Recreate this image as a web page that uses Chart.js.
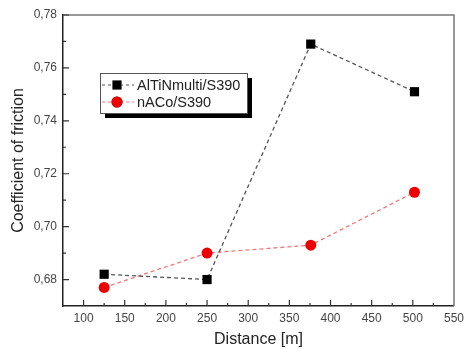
<!DOCTYPE html>
<html>
<head>
<meta charset="utf-8">
<script src="https://cdn.jsdelivr.net/npm/chart.js@4.4.0/dist/chart.umd.min.js"></script>
<style>
  html, body { margin: 0; padding: 0; background: #fff; }
  #wrap { width: 469px; height: 349px; }
</style>
</head>
<body>
<div id="wrap"><canvas class="js-chart" width="469" height="349"></canvas></div>
<script>
const distances = [125, 250, 376, 502];
const altinMulti = [0.682, 0.680, 0.769, 0.751];
const naco = [0.677, 0.690, 0.693, 0.713];
const xTicks = [100, 150, 200, 250, 300, 350, 400, 450, 500, 550];
const yTicks = [0.68, 0.70, 0.72, 0.74, 0.76, 0.78];
const seriesNames = ['AlTiNmulti/S390', 'nACo/S390'];

const FONT = "'Liberation Sans', Arial, sans-serif";
const ctx = document.querySelector('.js-chart').getContext('2d');

// inside ticks, box frame and the legend with its shadow
const frame = {
    id: 'frame',
    afterDraw(chart) {
        const { ctx, chartArea: a, scales: { x, y } } = chart;
        ctx.save();
        ctx.strokeStyle = '#777';
        ctx.lineWidth = 1.5;
        ctx.beginPath();
        ctx.moveTo(a.left, a.top);
        ctx.lineTo(a.right, a.top);
        ctx.lineTo(a.right, a.bottom);
        ctx.stroke();

        ctx.strokeStyle = '#333';
        ctx.lineWidth = 1.2;
        ctx.beginPath();
        for (let v = 100; v <= 525; v += 25) {
            const px = x.getPixelForValue(v);
            const len = v % 50 === 0 ? 6 : 3;
            ctx.moveTo(px, a.bottom);
            ctx.lineTo(px, a.bottom - len);
        }
        for (let i = 68; i <= 78; i++) {
            const py = y.getPixelForValue(i / 100);
            const len = i % 2 === 0 ? 6 : 3;
            ctx.moveTo(a.left, py);
            ctx.lineTo(a.left + len, py);
        }
        ctx.stroke();

        // legend
        const lx = 100, ly = 73, lw = 147, lh = 40;
        ctx.fillStyle = '#000';
        ctx.fillRect(lx + 5, ly + 5, lw, lh);
        ctx.fillStyle = '#fff';
        ctx.fillRect(lx, ly, lw, lh);
        ctx.strokeStyle = '#555';
        ctx.lineWidth = 1;
        ctx.strokeRect(lx + 0.5, ly + 0.5, lw, lh);
        chart.data.datasets.forEach((ds, i) => {
            const cy = ly + 12 + i * 17;
            ctx.strokeStyle = ds.borderColor;
            ctx.setLineDash([3, 3]);
            ctx.lineWidth = 1.2;
            ctx.beginPath();
            ctx.moveTo(lx + 2, cy);
            ctx.lineTo(lx + 34, cy);
            ctx.stroke();
            ctx.setLineDash([]);
            Chart.helpers.drawPoint(ctx, {
                pointStyle: ds.pointStyle, radius: ds.pointRadius, borderWidth: 0
            }, lx + 17, cy);
            ctx.fillStyle = ds.pointBackgroundColor;
            ctx.fill();
            ctx.fillStyle = '#222';
            ctx.font = '14.5px ' + FONT;
            ctx.textBaseline = 'middle';
            ctx.fillText(ds.label, lx + 37, cy + 1);
        });
        ctx.restore();
    }
};

new Chart(ctx, {
    type: 'line',
    data: {
        datasets: [
            {
                label: seriesNames[0],
                data: distances.map((d, i) => ({ x: d, y: altinMulti[i] })),
                borderColor: '#555',
                borderWidth: 1.3,
                borderDash: [4, 3],
                pointStyle: 'rect',
                pointRadius: 6.5,
                pointBackgroundColor: '#000',
                pointBorderWidth: 0,
            },
            {
                label: seriesNames[1],
                data: distances.map((d, i) => ({ x: d, y: naco[i] })),
                borderColor: '#f07878',
                borderWidth: 1.3,
                borderDash: [4, 3],
                pointStyle: 'circle',
                pointRadius: 5.5,
                pointBackgroundColor: '#ee0000',
                pointBorderWidth: 0,
            }
        ]
    },
    options: {
        responsive: false,
        animation: false,
        layout: { padding: { left: 9, right: 10, top: 15, bottom: 0 } },
        plugins: { legend: { display: false }, tooltip: { enabled: false } },
        scales: {
            x: {
                type: 'linear',
                min: 75,
                max: 550,
                afterBuildTicks(scale) { scale.ticks = xTicks.map(v => ({ value: v })); },
                afterFit(scale) { scale.height = 43; },
                grid: { display: false, drawTicks: false },
                border: { color: '#222', width: 1.5 },
                ticks: { padding: 5, color: '#444', font: { family: FONT, size: 12 }, maxRotation: 0 },
                title: {
                    display: true, text: 'Distance [m]', color: '#222',
                    font: { family: FONT, size: 16 }, padding: { top: 5, bottom: 0 }
                }
            },
            y: {
                min: 0.67,
                max: 0.78,
                afterBuildTicks(scale) { scale.ticks = yTicks.map(v => ({ value: v })); },
                afterFit(scale) { scale.width = 54; },
                grid: { display: false, drawTicks: false },
                border: { color: '#222', width: 1.5 },
                ticks: {
                    padding: 6, color: '#444', font: { family: FONT, size: 12 },
                    callback(value) { return value.toFixed(2).replace('.', ','); }
                },
                title: {
                    display: true, text: 'Coefficient of friction', color: '#222',
                    font: { family: FONT, size: 16 }, padding: { top: 0, bottom: 2 }
                }
            }
        }
    },
    plugins: [frame]
});
</script>
</body>
</html>
